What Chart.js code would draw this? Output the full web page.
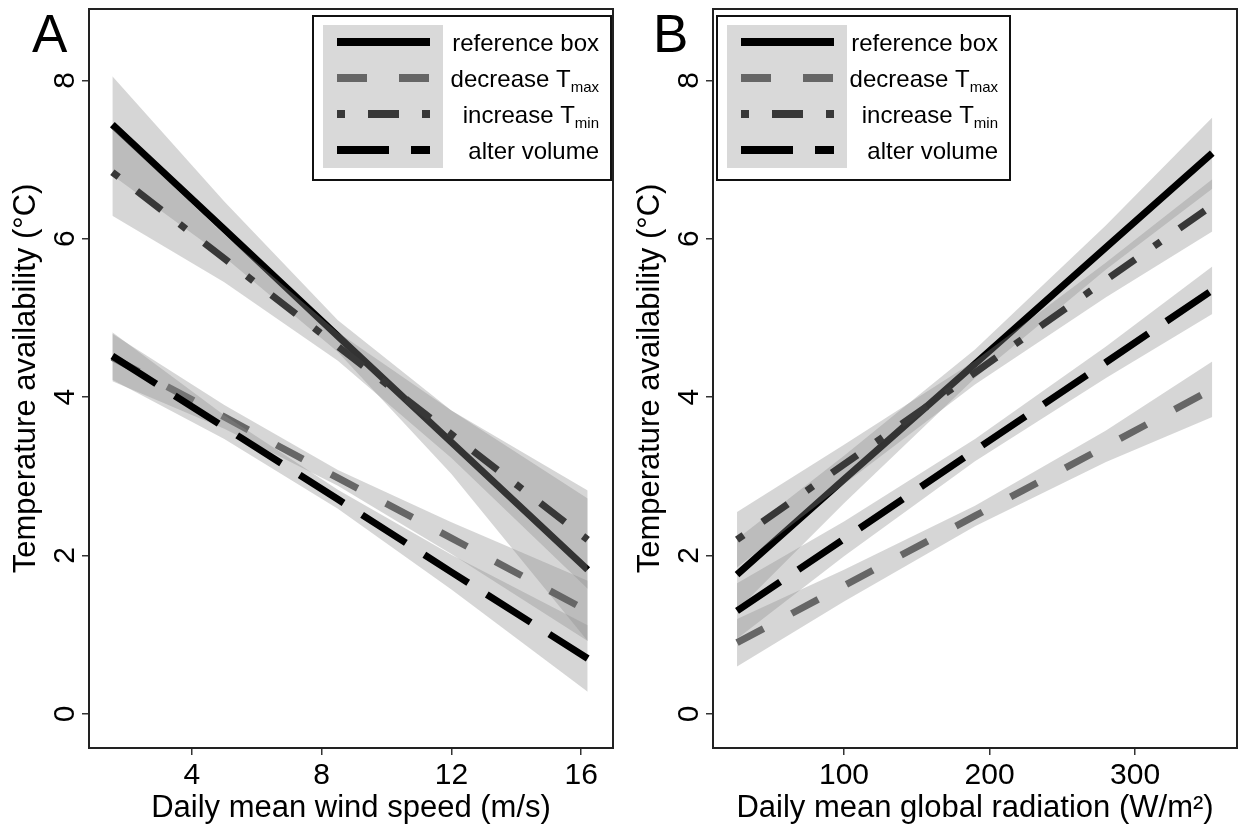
<!DOCTYPE html>
<html>
<head>
<meta charset="utf-8">
<script src="https://cdn.jsdelivr.net/npm/chart.js@4.4.0/dist/chart.umd.min.js"></script>
<style>
html, body { margin: 0; padding: 0; background: #fff; }
body { width: 1238px; height: 839px; position: relative; overflow: hidden; }
.panel { position: absolute; top: 0; height: 839px; }
#wrapA { left: 0; width: 620px; }
#wrapB { left: 620px; width: 618px; }
.tag { position: absolute; top: 7px; font-family: 'Liberation Sans', Arial, sans-serif; font-size: 53px; line-height: 1; color: #000; }
</style>
</head>
<body>
<div class="panel" id="wrapA"><canvas id="chartA"></canvas></div>
<div class="panel" id="wrapB"><canvas id="chartB"></canvas></div>
<div class="tag" style="left:32px">A</div>
<div class="tag" style="left:653px">B</div>
<script>
const FONT = "'Liberation Sans', Arial, sans-serif";

// --- Panel A: wind speed ---
const windX      = [1.55, 5, 8.5, 12, 16.2];
const windRef    = [7.44, 6.12, 4.77, 3.43, 1.82];
const windRefHi  = [8.05, 6.47, 4.97, 3.83, 2.72];
const windRefLo  = [6.80, 5.77, 4.57, 3.03, 0.92];
const windTmax   = [4.50, 3.75, 2.98, 2.22, 1.30];
const windTmaxHi = [4.80, 3.90, 3.08, 2.42, 1.68];
const windTmaxLo = [4.20, 3.60, 2.88, 2.02, 0.92];
const windTmin   = [6.84, 5.75, 4.64, 3.53, 2.20];
const windTminHi = [7.39, 6.05, 4.82, 3.83, 2.82];
const windTminLo = [6.29, 5.45, 4.46, 3.23, 1.58];
const windAlt    = [4.52, 3.62, 2.71, 1.79, 0.70];
const windAltHi  = [4.82, 3.77, 2.83, 2.01, 1.12];
const windAltLo  = [4.22, 3.47, 2.59, 1.57, 0.28];
const windTicks  = [4, 8, 12, 16];

// --- Panel B: global radiation ---
const radX      = [26.5, 100, 190, 280, 353];
const radRef    = [1.76, 2.96, 4.42, 5.89, 7.08];
const radRefHi  = [2.21, 3.26, 4.60, 6.17, 7.53];
const radRefLo  = [1.31, 2.66, 4.24, 5.61, 6.63];
const radTmax   = [0.90, 1.62, 2.50, 3.38, 4.10];
const radTmaxHi = [1.20, 1.82, 2.63, 3.58, 4.45];
const radTmaxLo = [0.60, 1.42, 2.37, 3.18, 3.75];
const radTmin   = [2.20, 3.15, 4.31, 5.48, 6.42];
const radTminHi = [2.55, 3.40, 4.46, 5.70, 6.75];
const radTminLo = [1.85, 2.90, 4.16, 5.26, 6.09];
const radAlt    = [1.30, 2.21, 3.33, 4.44, 5.35];
const radAltHi  = [1.65, 2.43, 3.47, 4.64, 5.65];
const radAltLo  = [0.95, 1.99, 3.19, 4.24, 5.05];
const radTicks  = [100, 200, 300];

const tempTicks = [0, 2, 4, 6, 8];
const legendKeys  = ['ref', 'tmax', 'tmin', 'alter'];
const legendNames = ['reference box', 'decrease T', 'increase T', 'alter volume'];
const legendSubs  = ['', 'max', 'min', ''];

// line looks
const STYLES = {
    ref:   { color: '#000000', dash: [] },
    tmax:  { color: '#666666', dash: [30, 32] },
    tmin:  { color: '#383838', dash: [8, 23, 31, 23] },
    alter: { color: '#000000', dash: [52, 22] }
};
const BAND = 'rgba(140,140,140,0.36)';

function pts(xs, ys) { return xs.map((x, i) => ({ x: x, y: ys[i] })); }

function lineSet(key, xs, ys) {
    return {
        seriesKey: key, data: pts(xs, ys), showLine: true, fill: false,
        borderColor: STYLES[key].color, borderDash: STYLES[key].dash,
        borderWidth: 7, borderCapStyle: 'butt', pointRadius: 0, tension: 0
    };
}
function bandSets(xs, hi, lo) {
    return [
        { data: pts(xs, hi), showLine: true, fill: '+1', backgroundColor: BAND,
          borderColor: 'rgba(0,0,0,0)', borderWidth: 0, pointRadius: 0 },
        { data: pts(xs, lo), showLine: true, fill: false,
          borderColor: 'rgba(0,0,0,0)', borderWidth: 0, pointRadius: 0 }
    ];
}

// first dataset is drawn last, so ref goes at the end (bottom of the stack)
function buildDatasets(xs, s) {
    return [
        lineSet('alter', xs, s.alter), ...bandSets(xs, s.alterHi, s.alterLo),
        lineSet('tmin', xs, s.tmin), ...bandSets(xs, s.tminHi, s.tminLo),
        lineSet('tmax', xs, s.tmax), ...bandSets(xs, s.tmaxHi, s.tmaxLo),
        lineSet('ref', xs, s.ref), ...bandSets(xs, s.refHi, s.refLo)
    ];
}

// Frame + R-style legend box
const boxLegend = {
    id: 'boxLegend',
    afterDraw(chart, args, opts) {
        const ctx = chart.ctx;
        const a = chart.chartArea;
        ctx.save();
        ctx.strokeStyle = '#222';
        ctx.lineWidth = 2;
        ctx.strokeRect(a.left, a.top, a.right - a.left, a.bottom - a.top);

        const w = opts.width, h = 164;
        const x0 = opts.side === 'right' ? a.right - 2 - w : a.left + 4;
        const y0 = a.top + 7;
        ctx.fillStyle = '#fff';
        ctx.fillRect(x0, y0, w, h);
        ctx.strokeStyle = '#111';
        ctx.strokeRect(x0, y0, w, h);
        ctx.fillStyle = '#d9d9d9';
        ctx.fillRect(x0 + 10, y0 + 9, 120, 143);

        legendKeys.forEach((key, i) => {
            const ds = chart.data.datasets.find(d => d.seriesKey === key);
            const yy = y0 + 26 + i * 36;
            ctx.beginPath();
            ctx.setLineDash(ds.borderDash);
            ctx.lineWidth = 8;
            ctx.lineCap = 'butt';
            ctx.strokeStyle = ds.borderColor;
            ctx.moveTo(x0 + 24, yy);
            ctx.lineTo(x0 + 117, yy);
            ctx.stroke();
            ctx.setLineDash([]);

            const right = x0 + w - 12;
            ctx.fillStyle = '#000';
            ctx.textBaseline = 'middle';
            ctx.textAlign = 'right';
            let subW = 0;
            if (legendSubs[i]) {
                ctx.font = '15px ' + FONT;
                subW = ctx.measureText(legendSubs[i]).width;
                ctx.fillText(legendSubs[i], right, yy + 10);
            }
            ctx.font = '24px ' + FONT;
            ctx.fillText(legendNames[i], right - subW, yy + 2);
        });
        ctx.restore();
    }
};

function makeOptions(cfg) {
    const tickGrid = { display: true, drawOnChartArea: false, drawTicks: true, tickLength: 7, color: '#333', lineWidth: 1.5 };
    return {
        responsive: true,
        maintainAspectRatio: false,
        animation: false,
        events: [],
        layout: { padding: { top: 9, right: cfg.padRight, bottom: 0, left: 0 } },
        plugins: {
            legend: { display: false },
            tooltip: { enabled: false },
            boxLegend: { side: cfg.legendSide, width: cfg.legendWidth }
        },
        scales: {
            x: {
                type: 'linear', min: cfg.xMin, max: cfg.xMax,
                afterBuildTicks: s => { s.ticks = cfg.xTicks.map(v => ({ value: v })); },
                afterFit: s => { s.height = 91; s.paddingLeft = 0; s.paddingRight = 0; },
                grid: tickGrid,
                border: { display: false },
                ticks: { font: { family: FONT, size: 30 }, color: '#000', padding: 3, maxRotation: 0, minRotation: 0 },
                title: { display: true, text: cfg.xTitle, font: { family: FONT, size: 31 }, color: '#000', padding: { top: 0, bottom: 12 } }
            },
            y: {
                type: 'linear', min: -0.43, max: 8.9,
                afterBuildTicks: s => { s.ticks = tempTicks.map(v => ({ value: v })); },
                afterFit: s => { s.width = cfg.yWidth; s.paddingTop = 0; s.paddingBottom = 0; },
                grid: tickGrid,
                border: { display: false },
                ticks: { font: { family: FONT, size: 30 }, color: '#000', padding: 8, minRotation: 90, maxRotation: 90, crossAlign: 'center' },
                title: { display: true, text: 'Temperature availability (°C)', font: { family: FONT, size: 31 }, color: '#000', padding: { top: cfg.yWidth - 81, bottom: 0 } }
            }
        }
    };
}

new Chart(document.getElementById('chartA'), {
    type: 'scatter',
    data: {
        datasets: buildDatasets(windX, {
            ref: windRef, refHi: windRefHi, refLo: windRefLo,
            tmax: windTmax, tmaxHi: windTmaxHi, tmaxLo: windTmaxLo,
            tmin: windTmin, tminHi: windTminHi, tminLo: windTminLo,
            alter: windAlt, alterHi: windAltHi, alterLo: windAltLo
        })
    },
    options: makeOptions({
        xMin: 0.83, xMax: 16.98, xTicks: windTicks, xTitle: 'Daily mean wind speed (m/s)',
        yWidth: 89, padRight: 7, legendSide: 'right', legendWidth: 298
    }),
    plugins: [boxLegend]
});

new Chart(document.getElementById('chartB'), {
    type: 'scatter',
    data: {
        datasets: buildDatasets(radX, {
            ref: radRef, refHi: radRefHi, refLo: radRefLo,
            tmax: radTmax, tmaxHi: radTmaxHi, tmaxLo: radTmaxLo,
            tmin: radTmin, tminHi: radTminHi, tminLo: radTminLo,
            alter: radAlt, alterHi: radAltHi, alterLo: radAltLo
        })
    },
    options: makeOptions({
        xMin: 10, xMax: 370, xTicks: radTicks, xTitle: 'Daily mean global radiation (W/m²)',
        yWidth: 93, padRight: 1, legendSide: 'left', legendWidth: 293
    }),
    plugins: [boxLegend]
});
</script>
</body>
</html>
